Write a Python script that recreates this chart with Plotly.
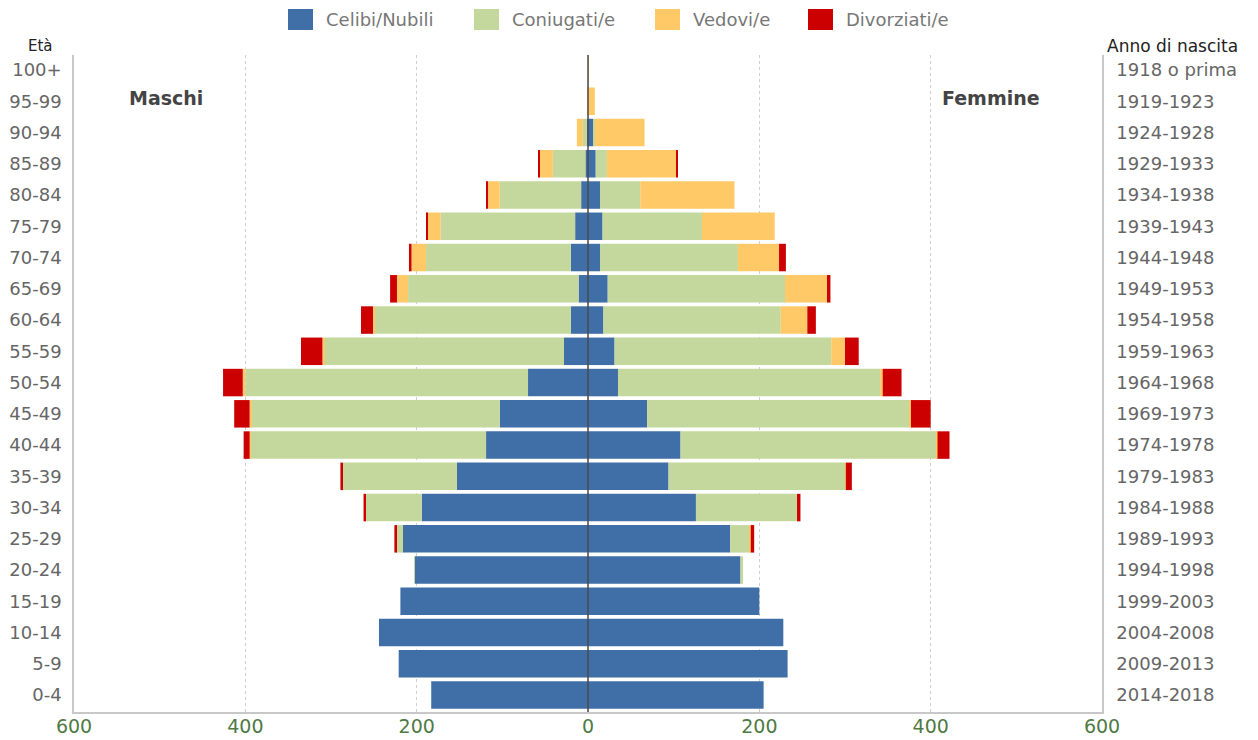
import plotly.graph_objects as go

ages = ["0-4", "5-9", "10-14", "15-19", "20-24", "25-29", "30-34", "35-39", "40-44", "45-49",
        "50-54", "55-59", "60-64", "65-69", "70-74", "75-79", "80-84", "85-89", "90-94", "95-99", "100+"]
births = ["2014-2018", "2009-2013", "2004-2008", "1999-2003", "1994-1998", "1989-1993", "1984-1988",
          "1979-1983", "1974-1978", "1969-1973", "1964-1968", "1959-1963", "1954-1958", "1949-1953",
          "1944-1948", "1939-1943", "1934-1938", "1929-1933", "1924-1928", "1919-1923", "1918 o prima"]

series_names = ["Celibi/Nubili", "Coniugati/e", "Vedovi/e", "Divorziati/e"]

m_celibi = [183, 221, 244, 219, 202, 216, 194, 153, 119, 103, 70, 28, 20, 11, 20, 15, 8, 3, 1, 0, 0]
m_coniugati = [0, 0, 0, 0, 1, 8, 66, 133, 275, 290, 330, 279, 229, 199, 169, 157, 95, 38, 5, 0, 0]
m_vedovi = [0, 0, 0, 0, 0, 0, 0, 0, 1, 2, 3, 3, 2, 13, 17, 15, 14, 16, 7, 1, 0]
m_divorziati = [0, 0, 0, 0, 0, 2, 2, 3, 7, 18, 23, 25, 14, 8, 3, 2, 1, 1, 0, 0, 0]

f_nubili = [205, 233, 228, 200, 178, 166, 126, 94, 108, 69, 35, 31, 18, 23, 14, 17, 14, 9, 6, 0, 0]
f_coniugate = [0, 0, 0, 0, 3, 23, 118, 206, 299, 306, 306, 253, 207, 207, 161, 116, 47, 13, 2, 0, 0]
f_vedove = [0, 0, 0, 0, 0, 1, 0, 1, 1, 2, 3, 16, 31, 49, 48, 85, 110, 81, 58, 8, 1]
f_divorziate = [0, 0, 0, 0, 0, 4, 4, 7, 14, 23, 22, 16, 10, 4, 8, 0, 0, 1, 0, 0, 0]

x_ticks = [-600, -400, -200, 0, 200, 400, 600]

colors = ["#3f6fa6", "#c4d79d", "#fec966", "#cc0000"]

males = [m_celibi, m_coniugati, m_vedovi, m_divorziati]
females = [f_nubili, f_coniugate, f_vedove, f_divorziate]

ypos = list(range(len(ages)))

FONT = "DejaVu Sans, Verdana, sans-serif"

# plot-area geometry (figure pixels)
W, H = 1258, 740
L, R, T, B = 66, 164, 47, 36
PW, PH = W - L - R, H - T - B


def px(xp):
    return (xp - L) / PW


def py(yp):
    return (H - B - yp) / PH


fig = go.Figure()
for i, name in enumerate(series_names):
    fig.add_trace(go.Bar(
        x=[-v for v in males[i]], y=ypos, orientation="h", name=name,
        marker=dict(color=colors[i], line=dict(width=0)),
        legendgroup=name, showlegend=False,
        customdata=males[i], hovertemplate="%{customdata}<extra>Maschi " + name + "</extra>",
    ))
for i, name in enumerate(series_names):
    fig.add_trace(go.Bar(
        x=females[i], y=ypos, orientation="h", name=name,
        marker=dict(color=colors[i], line=dict(width=0)),
        legendgroup=name, showlegend=False,
        hovertemplate="%{x}<extra>Femmine " + name + "</extra>",
    ))

# invisible trace to draw right axis (birth years)
fig.add_trace(go.Scatter(x=[0] * len(ypos), y=ypos, yaxis="y2", mode="markers",
                         marker=dict(opacity=0), showlegend=False, hoverinfo="skip"))

fig.add_shape(type="line", xref="x", yref="paper", x0=0, x1=0, y0=0, y1=1,
              line=dict(color="#4a4a4a", width=1.5), layer="above")

# custom legend (large swatches like the reference)
legend_swatch_x = [280, 466, 647, 800]
annotations = []
for i, name in enumerate(series_names):
    x0 = legend_swatch_x[i]
    fig.add_shape(type="rect", xref="paper", yref="paper",
                  x0=px(x0), x1=px(x0 + 25), y0=py(22), y1=py(1),
                  fillcolor=colors[i], line=dict(width=0), layer="above")
    annotations.append(dict(text=name, x=px(x0 + 36), y=py(11), xref="paper", yref="paper",
                            xanchor="left", yanchor="middle", showarrow=False,
                            font=dict(family=FONT, size=18, color="#777")))

annotations += [
    dict(text="<b>Maschi</b>", x=-493, y=19.1, xref="x", yref="y", showarrow=False,
         font=dict(family=FONT, size=19, color="#444")),
    dict(text="<b>Femmine</b>", x=470, y=19.1, xref="x", yref="y", showarrow=False,
         font=dict(family=FONT, size=19, color="#444")),
    dict(text="Età", x=px(32), y=py(38), xref="paper", yref="paper",
         showarrow=False, xanchor="center", yanchor="middle",
         font=dict(family=FONT, size=15, color="#222")),
    dict(text="Anno di nascita", x=px(1097), y=py(38), xref="paper", yref="paper",
         showarrow=False, xanchor="left", yanchor="middle",
         font=dict(family=FONT, size=17, color="#222")),
]

fig.update_layout(
    width=W, height=H,
    barmode="relative", bargap=0.12,
    plot_bgcolor="white", paper_bgcolor="white",
    font=dict(family=FONT, color="#555"),
    margin=dict(l=L, r=R, t=T, b=B, autoexpand=False),
    showlegend=False,
    xaxis=dict(range=[-600, 600], tickvals=x_ticks, ticktext=[str(abs(v)) for v in x_ticks],
               showgrid=True, gridcolor="#cfcfcf", griddash="dot", gridwidth=1,
               zeroline=False, showline=True, linecolor="#c8c8c8", linewidth=1.5,
               tickfont=dict(family=FONT, size=19, color="#4f7a44"), ticks="",
               ticklabelstandoff=-4, automargin=False),
    yaxis=dict(range=[-0.54, 20.48], tickvals=ypos, ticktext=ages, showgrid=False,
               zeroline=False, showline=True, linecolor="#c8c8c8", linewidth=1.5,
               ticks="outside", ticklen=7, tickcolor="rgba(0,0,0,0)", automargin=False,
               tickfont=dict(family=FONT, size=18, color="#666")),
    yaxis2=dict(overlaying="y", side="right", matches="y", tickvals=ypos, ticktext=births,
                showgrid=False, zeroline=False, showline=True, linecolor="#c8c8c8", linewidth=1.5,
                ticks="outside", ticklen=9, tickcolor="rgba(0,0,0,0)", automargin=False,
                tickfont=dict(family=FONT, size=18, color="#666")),
    annotations=annotations,
)

fig.write_html("out.html")
